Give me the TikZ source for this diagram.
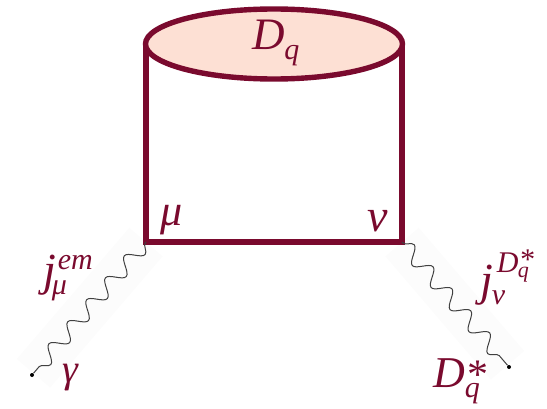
\documentclass[tikz,border=0pt]{standalone}
\usepackage{fontspec}
\setmainfont{Liberation Serif}
\usetikzlibrary{decorations.pathmorphing,shapes.geometric}
\definecolor{maroon}{HTML}{7A0A2E}
\definecolor{blobfill}{HTML}{FDE0D4}
\definecolor{bandgray}{HTML}{FCFCFC}
\newcommand{\Pc}[4]{\rlap{\hspace{#1pt}\raisebox{#2pt}{\fontsize{#3}{#3}\selectfont #4}}}
\tikzset{
  lbl/.style={text=maroon,anchor=base west,inner sep=0pt,outer sep=0pt,font=\itshape},
  quark/.style={draw=maroon,line width=5.4pt},
  boson/.style={draw=black!75,line width=1pt,decorate,decoration={snake,amplitude=7.5pt,segment length=29pt,pre length=1pt,post length=3pt}},
  band/.style={draw=bandgray,line width=44pt},
  enddot/.style={circle,fill=black,inner sep=0pt,minimum size=4pt}
}
\begin{document}
\begin{tikzpicture}[x=1pt,y=-1pt]
\useasboundingbox (0,0) rectangle (547,409);
\coordinate (tl) at (146,44);
\coordinate (tr) at (402,44);
\coordinate (mu) at (146,242);
\coordinate (nu) at (402,242);
\node[enddot] (ga) at (32,375) {};
\node[enddot] (ds) at (509,367) {};
\draw[band] (mu) -- (ga);
\draw[band] (nu) -- (ds);
\draw[quark] (tl) -- (mu) -- (nu) -- (tr);
\node[ellipse,draw=maroon,fill=blobfill,line width=5.4pt,minimum width=257pt,minimum height=70pt,inner sep=0pt] (blob) at (274,44) {};
\draw[boson] (mu) -- (ga);
\draw[boson] (nu) -- (ds);
\node[lbl,font=\itshape\fontsize{45}{45}\selectfont] (dq) at (252,50) {D\Pc{0}{-10}{30}{q}\hspace{16pt}};
\node[lbl,font=\itshape\fontsize{44}{44}\selectfont] (lmu) at (160,226) {μ};
\node[lbl,font=\itshape\fontsize{46}{46}\selectfont] (lnu) at (367,232) {ν};
\node[lbl,font=\itshape\fontsize{46}{46}\selectfont] (jem) at (43,286) {j\Pc{-4}{-9}{30}{μ}\Pc{2}{16}{30}{em}\hspace{40pt}};
\node[lbl,font=\itshape\fontsize{40}{40}\selectfont] (lga) at (62,382) {γ};
\node[lbl,font=\itshape\fontsize{46}{46}\selectfont] (jd) at (480,296) {j\Pc{-1}{-9}{30}{ν}\Pc{4}{24}{30}{D}\Pc{26}{26}{30}{*}\Pc{25}{18}{22}{q}\hspace{40pt}};
\node[lbl,font=\itshape\fontsize{44}{44}\selectfont] (dsl) at (433,387) {D\Pc{0}{-10}{30}{q}\Pc{1}{-1}{42}{*}\hspace{20pt}};
\end{tikzpicture}
\end{document}
